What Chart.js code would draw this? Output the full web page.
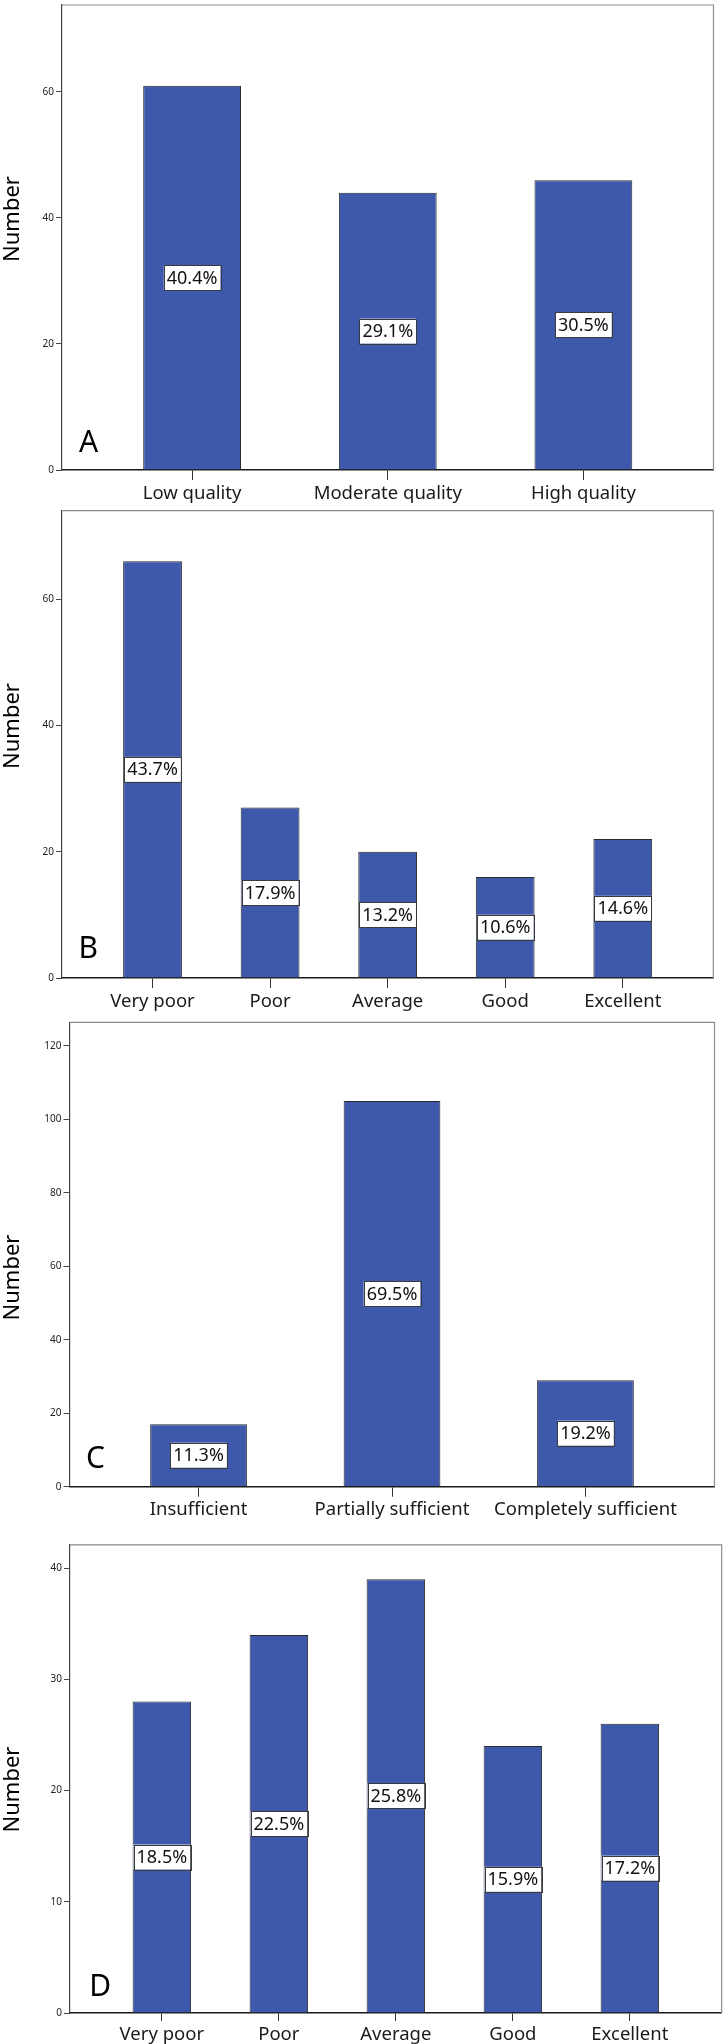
<!DOCTYPE html>
<html>
<head>
<meta charset="utf-8">
<title>Number by category</title>
<script src="https://cdn.jsdelivr.net/npm/chart.js@4.4.1/dist/chart.umd.min.js"></script>
<style>
  html, body { margin: 0; padding: 0; background: #fff; }
  body { width: 724px; height: 2044px; position: relative; overflow: hidden; }
  .panel { position: absolute; left: 0; width: 724px; }
</style>
</head>
<body>
<div class="panel" style="top:0;height:506px"><canvas id="chartA"></canvas></div>
<div class="panel" style="top:506px;height:510px"><canvas id="chartB"></canvas></div>
<div class="panel" style="top:1016px;height:524px"><canvas id="chartC"></canvas></div>
<div class="panel" style="top:1540px;height:504px"><canvas id="chartD"></canvas></div>
<script>
// data
const qualityLabels = ['Low quality', 'Moderate quality', 'High quality'];
const qualityCounts = [61, 44, 46];
const qualityPct = ['40.4%', '29.1%', '30.5%'];

const ratingLabels = ['Very poor', 'Poor', 'Average', 'Good', 'Excellent'];
const ratingCountsB = [66, 27, 20, 16, 22];
const ratingPctB = ['43.7%', '17.9%', '13.2%', '10.6%', '14.6%'];

const sufficiencyLabels = ['Insufficient', 'Partially sufficient', 'Completely sufficient'];
const sufficiencyCounts = [17, 105, 29];
const sufficiencyPct = ['11.3%', '69.5%', '19.2%'];

const ratingCountsD = [28, 34, 39, 24, 26];
const ratingPctD = ['18.5%', '22.5%', '25.8%', '15.9%', '17.2%'];

const yTicksAB = [0, 20, 40, 60];
const yTicksC = [0, 20, 40, 60, 80, 100, 120];
const yTicksD = [0, 10, 20, 30, 40];

const BAR_BLUE = '#3e58ac';
const FONT = '"Noto Sans", "DejaVu Sans", sans-serif';

// layout of each panel (pixels inside its own canvas)
const panels = [
  { id: 'chartA', letter: 'A', labels: qualityLabels, counts: qualityCounts, pct: qualityPct,
    yTicks: yTicksAB, yMax: 73.8, height: 506, top: 5, left: 62, right: 713.5, axisY: 470,
    edge: 0.665, xTick: 10, xPad: 3, titleY: 219, letterX: 79, letterY: 452 },
  { id: 'chartB', letter: 'B', labels: ratingLabels, counts: ratingCountsB, pct: ratingPctB,
    yTicks: yTicksAB, yMax: 74, height: 510, top: 4.7, left: 62, right: 713.3, axisY: 472,
    edge: 0.77, xTick: 10, xPad: 3, titleY: 220, letterX: 78.6, letterY: 452.3 },
  { id: 'chartC', letter: 'C', labels: sufficiencyLabels, counts: sufficiencyCounts, pct: sufficiencyPct,
    yTicks: yTicksC, yMax: 126.4, height: 524, top: 6.3, left: 69.5, right: 714.5, axisY: 470.7,
    edge: 0.667, xTick: 10, xPad: 2, titleY: 261.5, letterX: 86, letterY: 452.3 },
  { id: 'chartD', letter: 'D', labels: ratingLabels, counts: ratingCountsD, pct: ratingPctD,
    yTicks: yTicksD, yMax: 42.1, height: 504, top: 4.8, left: 70, right: 721.7, axisY: 473,
    edge: 0.785, xTick: 8, xPad: 3, titleY: 249.5, letterX: 89.3, letterY: 456 }
];

function makeDecor(p) {
  return {
    id: 'panelDecor',
    afterDraw(chart) {
      const { ctx, chartArea: a } = chart;
      ctx.save();

      // grey top and right edges of the frame
      ctx.strokeStyle = '#8c8c8c';
      ctx.lineWidth = 1.2;
      ctx.beginPath();
      ctx.moveTo(a.left, a.top);
      ctx.lineTo(a.right, a.top);
      ctx.lineTo(a.right, a.bottom);
      ctx.stroke();

      // percentage boxes in the middle of each bar
      ctx.font = '18px ' + FONT;
      ctx.textAlign = 'center';
      ctx.textBaseline = 'middle';
      chart.getDatasetMeta(0).data.forEach((bar, i) => {
        const text = p.pct[i];
        const w = ctx.measureText(text).width + 6;
        const h = 25;
        const cy = (bar.y + bar.base) / 2;
        ctx.fillStyle = '#fff';
        ctx.fillRect(bar.x - w / 2, cy - h / 2, w, h);
        ctx.strokeStyle = '#3a3a3a';
        ctx.lineWidth = 1;
        ctx.strokeRect(Math.round(bar.x - w / 2) + 0.5, Math.round(cy - h / 2) + 0.5, Math.round(w), h);
        ctx.fillStyle = '#111';
        ctx.fillText(text, bar.x, cy + 1);
      });

      // panel letter
      ctx.font = '30px ' + FONT;
      ctx.textAlign = 'left';
      ctx.textBaseline = 'alphabetic';
      ctx.fillStyle = '#000';
      ctx.fillText(p.letter, p.letterX, p.letterY);

      // y axis title
      ctx.translate(12.7, p.titleY);
      ctx.rotate(-Math.PI / 2);
      ctx.font = '22px ' + FONT;
      ctx.textAlign = 'center';
      ctx.textBaseline = 'middle';
      ctx.fillText('Number', 0, 0);

      ctx.restore();
    }
  };
}

function drawPanel(p) {
  const points = p.counts.map((v, i) => ({ x: i, y: v }));
  new Chart(document.getElementById(p.id), {
    type: 'bar',
    data: {
      datasets: [{
        data: points,
        backgroundColor: BAR_BLUE,
        borderColor: '#2b2b2b',
        borderWidth: 1,
        borderSkipped: 'start',
        categoryPercentage: 1,
        barPercentage: 0.5
      }]
    },
    options: {
      responsive: true,
      maintainAspectRatio: false,
      animation: false,
      layout: { padding: { top: p.top, right: 724 - p.right, left: 0, bottom: 0 } },
      plugins: {
        legend: { display: false },
        tooltip: { enabled: false }
      },
      scales: {
        x: {
          type: 'linear',
          min: -p.edge,
          max: p.labels.length - 1 + p.edge,
          offset: false,
          z: 1,
          grid: { display: true, offset: false, drawOnChartArea: false, drawTicks: true,
                  tickLength: p.xTick, color: '#333', lineWidth: 1 },
          border: { display: true, color: '#1a1a1a', width: 1.5 },
          ticks: {
            autoSkip: false,
            maxRotation: 0,
            padding: p.xPad,
            color: '#1a1a1a',
            font: { family: FONT, size: 18.5 },
            callback: (value) => p.labels[value]
          },
          afterBuildTicks: (axis) => {
            axis.ticks = p.labels.map((_, i) => ({ value: i }));
          },
          afterFit: (s) => {
            s.height = p.height - p.axisY;
            s.paddingLeft = 0;
            s.paddingRight = 0;
          }
        },
        y: {
          min: 0,
          max: p.yMax,
          grid: { display: true, drawOnChartArea: false, drawTicks: true,
                  tickLength: 6, color: '#444', lineWidth: 1 },
          border: { display: true, color: '#444', width: 1.2 },
          ticks: {
            padding: 2,
            color: '#222',
            font: { family: FONT, size: 10 }
          },
          afterBuildTicks: (axis) => {
            axis.ticks = p.yTicks.map(v => ({ value: v }));
          },
          afterFit: (s) => {
            s.width = p.left;
            s.paddingTop = 0;
            s.paddingBottom = 0;
          }
        }
      }
    },
    plugins: [makeDecor(p)]
  });
}

document.fonts.load('18px "Noto Sans"').finally(() => {
  panels.forEach(drawPanel);
});
</script>
</body>
</html>
